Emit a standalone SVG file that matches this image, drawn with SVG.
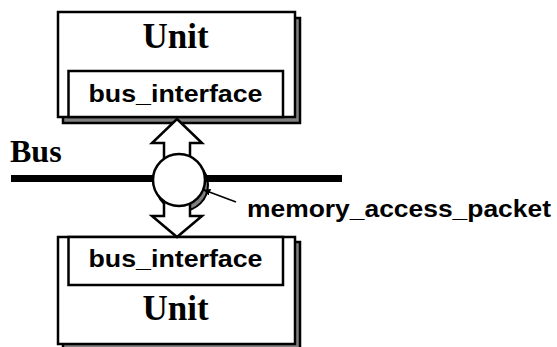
<svg xmlns="http://www.w3.org/2000/svg" width="557" height="347" viewBox="0 0 557 347">
<style>
.shadow{fill:#808080;stroke:#000;stroke-width:2.5}
.box{fill:#fff;stroke:#000;stroke-width:2.5}
.unit{font-family:"Liberation Serif","Times New Roman",serif;font-weight:bold;font-size:35px;fill:#000;text-anchor:middle}
.iface{font-family:"Liberation Sans",Arial,sans-serif;font-weight:bold;font-size:24px;fill:#000;text-anchor:middle}
.lbl{font-family:"Liberation Sans",Arial,sans-serif;font-weight:bold;font-size:23px;fill:#000}
.dbl{fill:#fff;stroke:#000;stroke-width:2.5;stroke-linejoin:miter}
</style>
<defs>
<marker id="ah" viewBox="0 0 10 10" refX="9" refY="5" markerWidth="7" markerHeight="7" markerUnits="userSpaceOnUse" orient="auto">
<path d="M0,0 L10,5 L0,10 z" fill="#000"/>
</marker>
</defs>
<g id="unit-top">
<rect class="shadow" x="63" y="18" width="237" height="105"/>
<rect class="box" x="58" y="12" width="237" height="105"/>
<text class="unit" x="175.5" y="48">Unit</text>
<g id="bus-interface-top">
<rect class="box" x="68.5" y="71" width="214.5" height="46"/>
<text class="iface" x="175.5" y="102" textLength="174" lengthAdjust="spacingAndGlyphs">bus_interface</text>
</g>
</g>
<g id="unit-bottom">
<rect class="shadow" x="63" y="242" width="237" height="107"/>
<rect class="box" x="58" y="237" width="237" height="107"/>
<text class="unit" x="175.5" y="320">Unit</text>
<g id="bus-interface-bottom">
<rect class="box" x="68.5" y="237" width="214.5" height="48"/>
<text class="iface" x="175.5" y="267" textLength="174" lengthAdjust="spacingAndGlyphs">bus_interface</text>
</g>
</g>
<g id="bus">
<text x="10" y="162" style="font-family:'Liberation Serif','Times New Roman',serif;font-weight:bold;font-size:32px;fill:#000">Bus</text>
</g>
<g id="connectors">
<circle cx="182" cy="185" r="26" fill="#808080" stroke="#000" stroke-width="2"/>
<line x1="11" y1="178.5" x2="342" y2="178.5" stroke="#000" stroke-width="7"/>
<polygon class="dbl" points="177,119 202,143 190,143 190,165 164,165 164,143 152,143"/>
<polygon class="dbl" points="164,195 164,216 152,216 177,237 202,216 190,216 190,195"/>
<circle cx="179" cy="180" r="26" fill="#fff" stroke="#000" stroke-width="2.5"/>
<line x1="236" y1="202" x2="204" y2="190" stroke="#000" stroke-width="1.5" marker-end="url(#ah)"/>
</g>
<g id="memory-access-packet">
<text class="lbl" x="247" y="217" textLength="304" lengthAdjust="spacingAndGlyphs">memory_access_packet</text>
</g>
</svg>
